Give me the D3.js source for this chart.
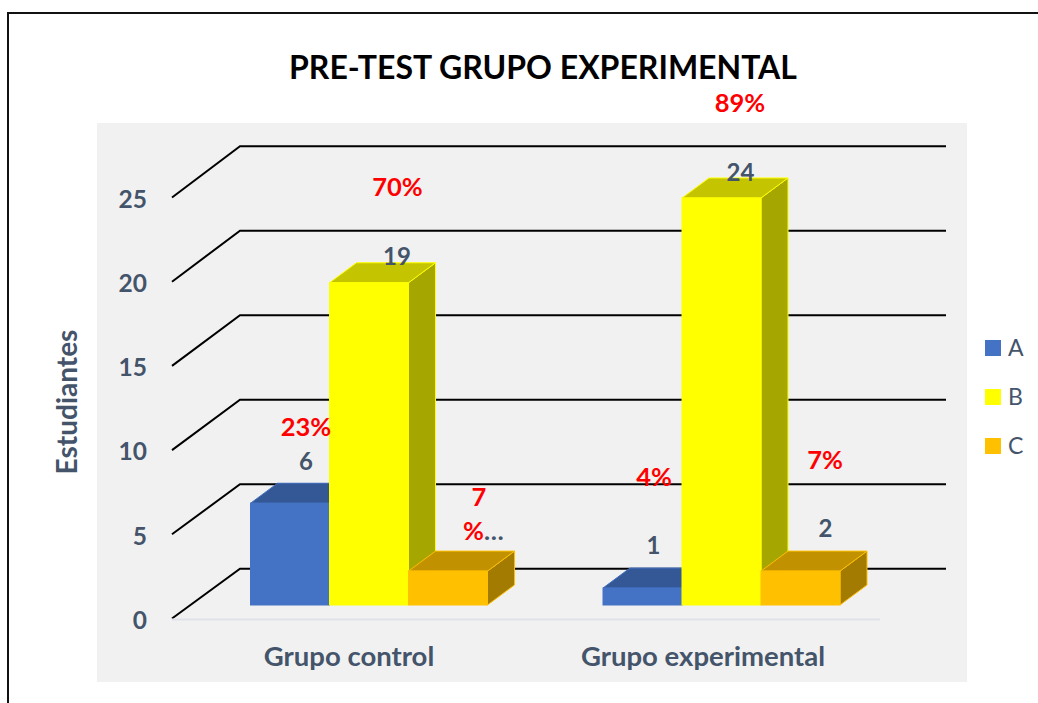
<!DOCTYPE html>
<html>
<head>
<meta charset="utf-8">
<script src="https://cdn.jsdelivr.net/npm/d3@7"></script>
<style>
  html, body { margin: 0; padding: 0; background: #fff; overflow: hidden; }
  text { font-family: Lato, "Open Sans", sans-serif; font-weight: 700; }
</style>
</head>
<body>
<div id="chart"></div>
<script>
var groups = ["Grupo control", "Grupo experimental"];
var seriesNames = ["A", "B", "C"];
var valuesA = [6, 1];
var valuesB = [19, 24];
var valuesC = [2, 2];
var percentA = ["23%", "4%"];
var percentB = ["70%", "89%"];
var percentC = ["7", "7%"];
var yTicks = [0, 5, 10, 15, 20, 25];

var colors = {
  A : {front : "#4472c4", top : "#345795", side : "#2f5090"},
  B : {front : "#ffff00", top : "#c4c400", side : "#a6a600"},
  C : {front : "#ffc000", top : "#c19100", side : "#a37b00"}
};

var width = 1038, height = 703;
var slate = "#44546a";

var svg = d3.select("#chart").append("svg")
  .attr("width", width)
  .attr("height", height)
  .style("display", "block");

// outer frame runs off the right and bottom of the picture
svg.append("rect")
  .attr("x", 8).attr("y", 13)
  .attr("width", width).attr("height", height)
  .attr("fill", "#fff").attr("stroke", "#111").attr("stroke-width", 2);

svg.append("rect")
  .attr("x", 97).attr("y", 123)
  .attr("width", 870).attr("height", 559)
  .attr("fill", "#f1f1f1");

svg.append("text")
  .attr("x", 543).attr("y", 79)
  .attr("text-anchor", "middle")
  .attr("font-size", 32)
  .attr("fill", "#000")
  .text("PRE-TEST GRUPO EXPERIMENTAL");

// the 3d box: floor front edge, back wall and bar plane each have their own scale
var y = d3.scaleLinear().domain([0, 25]).range([618.5, 197.5]);
var yWall = d3.scaleLinear().domain([0, 25]).range([568.7, 146.2]);
var yBar = d3.scaleLinear().domain([0, 25]).range([605, 181]);
var x0 = d3.scaleBand().domain(groups).range([172, 880]);
var xBar = d3.scaleBand().domain(groups).range([250.5, 955.5]);
var x1 = d3.scaleBand().domain(seriesNames).range([0, 237]);

var wallDx = 68;
var barDx = 27, barDy = -20;
var wallRight = 946;

// back wall gridlines
var grid = svg.append("g").attr("class", "grid");
grid.selectAll("path")
  .data(yTicks)
  .enter()
  .append("path")
  .attr("d", function(d){
    var p = d3.path();
    p.moveTo(x0.range()[0], y(d));
    p.lineTo(x0.range()[0] + wallDx, yWall(d));
    p.lineTo(wallRight, yWall(d));
    return p.toString();
  })
  .attr("fill", "none")
  .attr("stroke", "#000")
  .attr("stroke-width", 2);

// floor edge
svg.append("line")
  .attr("x1", x0.range()[0]).attr("x2", x0.range()[1])
  .attr("y1", y(0) + 1).attr("y2", y(0) + 1)
  .attr("stroke", "#dfe2e8").attr("stroke-width", 2);

var axisLeft = svg.append("g")
  .attr("transform", "translate(172,2)")
  .call(d3.axisLeft(y).tickValues(yTicks).tickSize(0).tickPadding(25));
axisLeft.select(".domain").remove();
axisLeft.selectAll("text")
  .attr("font-size", 24.5)
  .attr("font-family", "Lato")
  .attr("font-weight", 700)
  .attr("fill", slate);

var axisBottom = svg.append("g")
  .attr("transform", "translate(0,619)")
  .call(d3.axisBottom(x0).tickSize(0).tickPadding(27));
axisBottom.select(".domain").remove();
axisBottom.selectAll("text")
  .attr("font-size", 27.5)
  .attr("font-family", "Lato")
  .attr("font-weight", 700)
  .attr("fill", slate);

svg.append("text")
  .attr("transform", "translate(77,402) rotate(-90)")
  .attr("text-anchor", "middle")
  .attr("font-size", 28)
  .attr("fill", slate)
  .text("Estudiantes");

// one record per bar, built from the value lists
var bars = [];
var seriesValues = {A : valuesA, B : valuesB, C : valuesC};
groups.forEach(function(g, i){
  seriesNames.forEach(function(s){
    bars.push({group : g, series : s, value : seriesValues[s][i]});
  });
});

function poly(points){
  return points.map(function(p){ return p.join(","); }).join(" ");
}

svg.selectAll(".bar")
  .data(bars)
  .enter()
  .append("g")
  .attr("class", "bar")
  .each(function(d){
    var left = xBar(d.group) + x1(d.series);
    var right = left + x1.bandwidth();
    var base = yBar(0);
    var top = yBar(d.value);
    var g = d3.select(this);
    var c = colors[d.series];

    g.append("polygon")
      .attr("points", poly([[right, base], [right + barDx, base + barDy], [right + barDx, top + barDy], [right, top]]))
      .attr("fill", c.side).attr("stroke", c.front);
    g.append("polygon")
      .attr("points", poly([[left, top], [left + barDx, top + barDy], [right + barDx, top + barDy], [right, top]]))
      .attr("fill", c.top).attr("stroke", c.front);
    g.append("rect")
      .attr("x", left).attr("y", top)
      .attr("width", x1.bandwidth()).attr("height", base - top)
      .attr("fill", c.front).attr("stroke", c.front);
  });

// value labels: hand nudges per bar, the original's were dragged around.
// the control group's C label is cut off to the "…" next to the wrapped percent
var labelDx = [16, 28, 0, 11, 19, 25];
var labelDy = [-33, -18, 0, -34, -17, -34];
var labelled = bars.map(function(d, i){
  return {bar : d, dx : labelDx[i], dy : labelDy[i], hidden : i === 2};
}).filter(function(d){ return !d.hidden; });

svg.selectAll(".value-label")
  .data(labelled)
  .enter()
  .append("text")
  .attr("class", "value-label")
  .attr("x", function(d){
    return xBar(d.bar.group) + x1(d.bar.series) + x1.bandwidth() / 2 + d.dx;
  })
  .attr("y", function(d){
    return yBar(d.bar.value) + d.dy;
  })
  .attr("text-anchor", "middle")
  .attr("font-size", 24)
  .attr("fill", slate)
  .text(function(d){ return d.bar.value; });

// percent labels were placed by hand in the original
var percentSpots = [
  {text : percentA[0], x : 306, y : 436},
  {text : percentB[0], x : 397.5, y : 196},
  {text : percentC[0], x : 479, y : 506},
  {text : percentA[1], x : 654, y : 486},
  {text : percentB[1], x : 740, y : 112},
  {text : percentC[1], x : 825, y : 469}
];
svg.selectAll(".percent-label")
  .data(percentSpots)
  .enter()
  .append("text")
  .attr("class", "percent-label")
  .attr("x", function(d){ return d.x; })
  .attr("y", function(d){ return d.y; })
  .attr("text-anchor", "middle")
  .attr("font-size", 25.5)
  .attr("font-weight", 900)
  .attr("fill", "#ff0000")
  .text(function(d){ return d.text; });

var wrapped = svg.append("text")
  .attr("x", 463).attr("y", 540)
  .attr("font-size", 25.5)
  .attr("fill", "#ff0000");
wrapped.append("tspan").text("%");
wrapped.append("tspan").attr("fill", slate).text("…");

// legend
var legend = svg.selectAll(".legend")
  .data(seriesNames)
  .enter()
  .append("g")
  .attr("class", "legend")
  .attr("transform", function(d, i){ return "translate(985," + (340 + i * 49) + ")"; });
legend.append("rect")
  .attr("width", 16).attr("height", 16)
  .attr("fill", function(d){ return colors[d].front; });
legend.append("text")
  .attr("x", 23).attr("y", 16)
  .attr("font-size", 23)
  .style("font-weight", 400)
  .attr("fill", slate)
  .text(function(d){ return d; });
</script>
</body>
</html>
